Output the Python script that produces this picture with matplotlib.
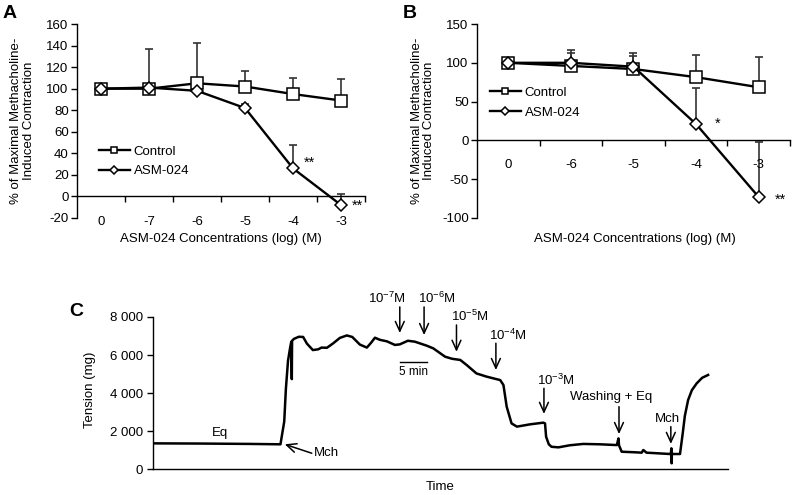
import numpy as np
import matplotlib
matplotlib.use("Agg")
import matplotlib.pyplot as plt
from matplotlib.ticker import FuncFormatter

plt.rcParams['font.family'] = ['Liberation Sans', 'DejaVu Sans']
plt.rcParams['mathtext.fontset'] = 'custom'
plt.rcParams['mathtext.rm'] = 'Liberation Sans'
plt.rcParams['mathtext.it'] = 'Liberation Sans:italic'
plt.rcParams['mathtext.bf'] = 'Liberation Sans:bold'
plt.rcParams['axes.unicode_minus'] = False

FS = 9.5

# ---- panel A data
catsA = ["0", "-7", "-6", "-5", "-4", "-3"]
ctrlA = [100, 100, 105, 102, 95, 89]
ctrlA_err = [0, 37, 37, 14, 14.5, 20]
asmA = [100, 101, 98, 82, 26, -8]
asmA_err = [0, 3, 3, 4, 21.5, 10]
starsA = {4: ("**", 31), 5: ("**", -9)}

# ---- panel B data
catsB = ["0", "-6", "-5", "-4", "-3"]
ctrlB = [100, 96, 92, 81.5, 68.5]
ctrlB_err = [0, 17, 17, 28.5, 39]
asmB = [100, 100, 95, 21, -73]
asmB_err = [0, 16, 18, 47, 71]
starsB = {3: ("*", 21), 4: ("**", -76)}

# ---- panel C data (time in min, tension in mg)
t_min = [0, 8.7, 18.0, 23.6, 24.3, 24.6, 25.0, 25.4, 25.6, 25.7, 25.75, 26.1, 27.0,
         27.8, 28.5, 29.6, 30.6, 31.2, 32.2, 33.3, 34.6, 35.9, 36.9, 38.3, 39.6,
         40.4, 41.1, 42.0, 43.3, 44.8, 45.7, 47.2, 48.5, 50.7, 51.9, 54.1, 55.4,
         56.9, 58.1, 59.9, 61.8, 64.3, 64.9, 65.5, 66.4, 67.4, 69.8, 72.3, 72.6,
         72.8, 73.3, 73.8, 75.1, 77.2, 79.7, 82.8, 85.9, 86.2, 86.3, 86.8, 89.3,
         90.5, 90.8, 91.4, 93.9, 95.7, 95.9, 96.0, 96.05, 96.1, 97.6, 98.1, 98.5,
         99.1, 99.8, 100.7, 101.7, 102.8]
tension = [1350, 1340, 1320, 1300, 2500, 4200, 5700, 6400, 6700, 4730, 6750, 6850, 6960,
           6950, 6600, 6260, 6300, 6390, 6380, 6600, 6900, 7030, 6950, 6550, 6390,
           6650, 6910, 6800, 6720, 6530, 6560, 6750, 6700, 6490, 6350, 5910, 5800,
           5740, 5470, 5030, 4860, 4680, 4420, 3280, 2400, 2230, 2350, 2440, 2400,
           1700, 1300, 1170, 1140, 1250, 1320, 1300, 1260, 1610, 1250, 910, 880,
           860, 1000, 860, 820, 790, 790, 1090, 300, 790, 790, 1870, 2800,
           3630, 4150, 4510, 4800, 4950]

# arrows: label, label pos (t, mg), arrow x, arrow tail mg, arrow tip mg
doses = ["10$^{-7}$M", "10$^{-6}$M", "10$^{-5}$M", "10$^{-4}$M", "10$^{-3}$M",
         "Washing + Eq", "Mch"]
dose_lbl_t = [43.4, 52.6, 58.7, 65.7, 74.6, 84.8, 95.2]
dose_lbl_y = [9000, 9000, 8020, 7020, 4680, 3800, 2630]
dose_arr_t = [45.7, 50.2, 56.2, 63.5, 72.4, 86.3, 95.9]
dose_tail = [8530, 8530, 7580, 6620, 4250, 3280, 2230]
dose_tip = [7160, 7050, 6170, 5210, 2900, 1840, 1320]

fig = plt.figure(figsize=(7.95, 4.95), dpi=100)


def dose_panel(ax, cats, ctrl, ctrl_err, asm, asm_err, ylim, yticks, lab_y, stars):
    x = np.arange(len(cats))
    ax.errorbar(x, ctrl, yerr=[np.zeros(len(x)), ctrl_err], fmt='none', ecolor='#333333',
                elinewidth=1.2, capsize=2.8, capthick=1.2, zorder=2)
    ax.errorbar(x, asm, yerr=[np.zeros(len(x)), asm_err], fmt='none', ecolor='#333333',
                elinewidth=1.2, capsize=2.8, capthick=1.2, zorder=2)
    ax.plot(x, ctrl, '-s', color='black', lw=1.7, ms=8, mfc='white', mec='black',
            mew=1.1, label='Control', zorder=3)
    ax.plot(x, asm, '-D', color='black', lw=1.7, ms=6.2, mfc='white', mec='black',
            mew=1.1, label='ASM-024', zorder=4)
    for i, (s, yv) in stars.items():
        ax.text(i + 0.34, yv, s, fontsize=FS + 1, ha='center', va='center')
    ax.set_xlim(-0.5, len(cats) - 0.5)
    ax.set_ylim(*ylim)
    ax.set_yticks(yticks)
    ax.spines['top'].set_visible(False)
    ax.spines['right'].set_visible(False)
    ax.spines['bottom'].set_position(('data', 0))
    for sp in ax.spines.values():
        sp.set_linewidth(1.0)
    ax.set_xticks(np.arange(len(cats)) + 0.5)
    ax.tick_params(axis='x', direction='out', length=4, width=1, labelbottom=False)
    ax.tick_params(axis='y', direction='out', length=4, width=1, labelsize=FS, pad=2)
    for i, c in enumerate(cats):
        if lab_y is None:
            ax.text(i, -0.02, c, fontsize=FS, ha='center', va='center',
                    transform=ax.get_xaxis_transform())
        else:
            ax.text(i, lab_y, c, fontsize=FS, ha='center', va='center')


axA = fig.add_axes([0.0969, 0.5596, 0.3623, 0.3919])
dose_panel(axA, catsA, ctrlA, ctrlA_err, asmA, asmA_err, (-20, 160),
           np.arange(-20, 161, 20), None, starsA)
axA.text(-0.19, 0.5, "% of Maximal Methacholine-\nInduced Contraction", rotation=90,
         ha='center', va='center', fontsize=FS, transform=axA.transAxes, linespacing=1.1)
axA.text(0.5, -0.108, "ASM-024 Concentrations (log) (M)", ha='center', va='center',
         fontsize=FS, transform=axA.transAxes)
axA.legend(loc='center left', bbox_to_anchor=(0.075, 0.291), frameon=False, fontsize=FS,
           markerscale=0.6, handlelength=2.4, handletextpad=0.25, labelspacing=0.55,
           borderpad=0, borderaxespad=0)

axB = fig.add_axes([0.6, 0.5596, 0.3937, 0.3919])
dose_panel(axB, catsB, ctrlB, ctrlB_err, asmB, asmB_err, (-100, 150),
           np.arange(-100, 151, 50), -32, starsB)
axB.text(-0.1725, 0.5, "% of Maximal Methacholine-\nInduced Contraction", rotation=90,
         ha='center', va='center', fontsize=FS, transform=axB.transAxes, linespacing=1.1)
axB.text(0.505, -0.108, "ASM-024 Concentrations (log) (M)", ha='center', va='center',
         fontsize=FS, transform=axB.transAxes)
axB.legend(loc='center left', bbox_to_anchor=(0.04, 0.595), frameon=False, fontsize=FS,
           markerscale=0.6, handlelength=2.4, handletextpad=0.25, labelspacing=0.6,
           borderpad=0, borderaxespad=0)

axC = fig.add_axes([0.1925, 0.0525, 0.7233, 0.3071])
axC.plot(t_min, tension, color='black', lw=1.8, solid_joinstyle='round')
axC.set_xlim(0, 106.5)
axC.set_ylim(0, 8000)
axC.set_yticks(np.arange(0, 8001, 2000))
axC.yaxis.set_major_formatter(FuncFormatter(lambda v, p: f"{int(v):,}".replace(",", " ")))
axC.set_xticks([])
axC.spines['top'].set_visible(False)
axC.spines['right'].set_visible(False)
for sp in axC.spines.values():
    sp.set_linewidth(1.0)
axC.tick_params(axis='y', direction='out', length=4, width=1, labelsize=FS, pad=3)
axC.text(-0.11, 0.52, "Tension (mg)", rotation=90, ha='center', va='center',
         fontsize=FS, transform=axC.transAxes)
axC.text(0.5, -0.12, "Time", ha='center', va='center', fontsize=FS, transform=axC.transAxes)

arr = dict(arrowstyle='->,head_length=0.7,head_width=0.32', lw=1.1, color='black',
           shrinkA=0, shrinkB=0)
for lbl, lx, ly, ax_t, tail, tip in zip(doses, dose_lbl_t, dose_lbl_y, dose_arr_t,
                                         dose_tail, dose_tip):
    axC.text(lx, ly, lbl, ha='center', va='center', fontsize=FS, clip_on=False)
    axC.annotate("", xy=(ax_t, tip), xytext=(ax_t, tail), arrowprops=arr,
                 annotation_clip=False)
axC.annotate("", xy=(24.4, 1300), xytext=(29.4, 830), arrowprops=arr)
axC.text(29.7, 840, "Mch", ha='left', va='center', fontsize=FS)
axC.text(12.4, 1890, "Eq", ha='center', va='center', fontsize=FS)
axC.plot([45.7, 50.7], [5650, 5650], color='black', lw=1.0)
axC.text(48.2, 5120, "5 min", ha='center', va='center', fontsize=FS - 1)

fig.text(10 / 795, 1 - 14 / 495, "A", fontsize=14, fontweight='bold', ha='center', va='center')
fig.text(410 / 795, 1 - 14 / 495, "B", fontsize=14, fontweight='bold', ha='center', va='center')
fig.text(76 / 795, 1 - 312 / 495, "C", fontsize=14, fontweight='bold', ha='center', va='center')

fig.savefig("out.png", dpi=100)
